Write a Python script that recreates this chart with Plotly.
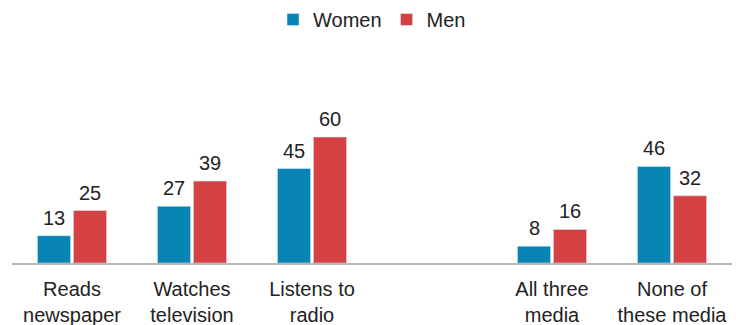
import plotly.graph_objects as go

categories = ["Reads<br>newspaper", "Watches<br>television", "Listens to<br>radio", " ", "All three<br>media", "None of<br>these media"]
women = [13, 27, 45, None, 8, 46]
men = [25, 39, 60, None, 16, 32]

series = [("Women", women, "#0784B4", -18), ("Men", men, "#D54043", 18)]

fig = go.Figure()
for name, vals, color, dx in series:
    fig.add_trace(go.Bar(name=name, x=categories, y=vals, marker_color=color))
    for c, v in zip(categories, vals):
        if v is None:
            continue
        fig.add_annotation(x=c, y=v, text=str(v), showarrow=False, xshift=dx,
                           yanchor="bottom", yshift=5,
                           font=dict(size=20, color="#222222"))

fig.update_layout(
    width=736, height=325,
    margin=dict(l=12, r=4, t=53, b=62, autoexpand=False),
    barmode="group", bargap=0.4, bargroupgap=0.08,
    plot_bgcolor="white", paper_bgcolor="white",
    font=dict(family="Liberation Sans, Arial, sans-serif", size=20, color="#222222"),
    legend=dict(orientation="h", x=0.5, xanchor="center", y=1.0, yref="container", yanchor="top",
                font=dict(size=20), itemwidth=30, traceorder="normal"),
    showlegend=True,
)
fig.update_xaxes(showline=True, linecolor="#b8b8b8", linewidth=1.5, ticks="",
                 tickfont=dict(size=20, color="#222222"), ticklabelstandoff=7,
                 showgrid=False, automargin=False)
fig.update_yaxes(range=[0, 100], visible=False, showgrid=False, automargin=False)

fig.write_html("out.html")
